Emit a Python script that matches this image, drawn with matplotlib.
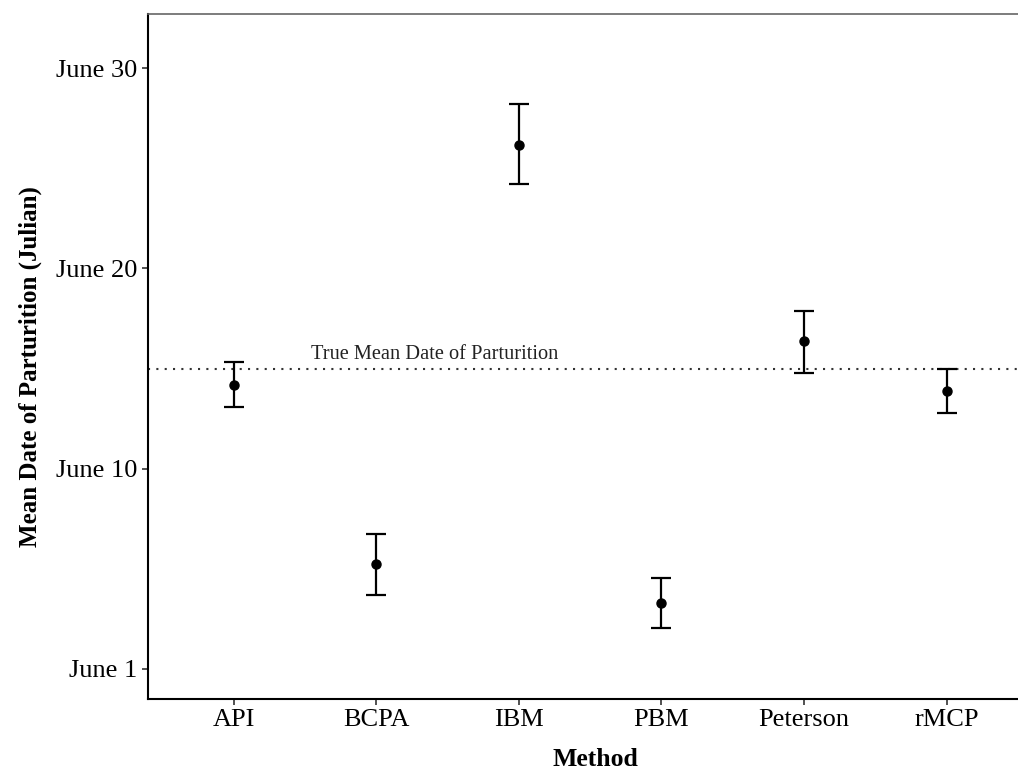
import matplotlib
matplotlib.use("Agg")
import matplotlib.pyplot as plt
import numpy as np

methods = ["API", "BCPA", "IBM", "PBM", "Peterson", "rMCP"]
mean_day = [166.2, 157.25, 178.15, 155.3, 168.35, 165.9]
lower = [165.1, 155.7, 176.2, 154.05, 166.8, 164.8]
upper = [167.35, 158.75, 180.2, 156.55, 169.85, 167.0]
true_mean = 167.0
ytick_vals = [152, 162, 172, 182]
ytick_labels = ["June 1", "June 10", "June 20", "June 30"]

plt.rcParams['font.family'] = ['Liberation Serif', 'DejaVu Serif']

fig = plt.figure(figsize=(10.18, 7.72), dpi=100)
ax = fig.add_axes([148/1018, 73/772, 1 - 148/1018, (699-14)/772])

x = np.arange(len(methods))
mean_arr = np.array(mean_day)
yerr = np.vstack([mean_arr - np.array(lower), np.array(upper) - mean_arr])
ax.errorbar(x, mean_arr, yerr=yerr, fmt='o', color='black', ecolor='black',
            elinewidth=1.6, capsize=7, capthick=1.6, markersize=6.5, zorder=3)

ax.axhline(true_mean, color='#333333', linestyle=(0, (1, 3)), linewidth=1.5, zorder=1)
ax.text(1.41, true_mean + 0.25, "True Mean Date of Parturition", ha='center', va='bottom',
        fontsize=14.7, color='#222222')

ax.set_xlim(-0.6, 5.5)
ax.set_ylim(150.5, 184.7)
ax.set_xticks(x)
ax.set_xticklabels(methods, fontsize=19)
ax.set_yticks(ytick_vals)
ax.set_yticklabels(ytick_labels, fontsize=19)
ax.tick_params(axis='both', length=4.5, width=1.2, color='#333333', pad=3)

ax.set_xlabel("Method", fontsize=18.5, fontweight='bold')
ax.set_ylabel("Mean Date of Parturition (Julian)", fontsize=18, fontweight='bold')
ax.xaxis.set_label_coords(0.514, -0.072)
ax.yaxis.set_label_coords(-0.122, 0.485)

for s in ['left', 'bottom']:
    ax.spines[s].set_color('black')
    ax.spines[s].set_linewidth(1.5)
ax.spines['top'].set_color('#666666')
ax.spines['top'].set_linewidth(1.2)
ax.spines['right'].set_visible(False)

fig.savefig("out.png", dpi=100, facecolor='white')
